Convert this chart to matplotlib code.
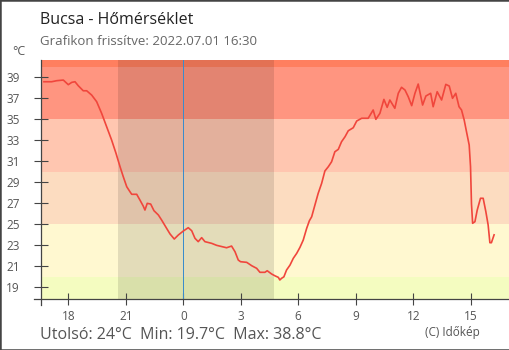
import matplotlib
matplotlib.use('Agg')
import matplotlib.pyplot as plt
from matplotlib.lines import Line2D

plt.rcParams['font.family'] = ['Open Sans', 'DejaVu Sans']

# hours relative to midnight (negative = previous evening)
hours = [-7.27, -6.87, -6.60, -6.26, -6.00, -5.82, -5.65, -5.48, -5.22, -5.04,
         -4.78, -4.52, -4.26, -4.00, -3.74, -3.51, -3.30, -3.13, -2.95, -2.78,
         -2.69, -2.43, -2.26, -2.09, -2.00, -1.88, -1.70, -1.53, -1.30, -1.13,
         -0.87, -0.69, -0.47, -0.26, 0.00, 0.26, 0.44, 0.61, 0.78, 0.96,
         1.13, 1.48, 1.74, 2.26, 2.52, 2.70, 2.87, 2.99, 3.31, 3.57,
         3.83, 4.00, 4.26, 4.38, 4.61, 4.78, 4.96, 5.04, 5.13, 5.25,
         5.39, 5.57, 5.74, 5.92, 6.09, 6.26, 6.44, 6.58, 6.70, 6.87,
         7.04, 7.22, 7.39, 7.57, 7.74, 7.91, 8.09, 8.26, 8.44, 8.61,
         8.87, 9.05, 9.31, 9.65, 9.91, 10.05, 10.26, 10.47, 10.64, 10.78,
         11.04, 11.22, 11.39, 11.57, 11.74, 11.92, 12.09, 12.26, 12.49, 12.66,
         12.91, 13.04, 13.25, 13.48, 13.70, 13.88, 14.05, 14.22, 14.39, 14.52,
         14.66, 14.78, 14.92, 14.99, 15.04, 15.10, 15.22, 15.34, 15.51, 15.65,
         15.79, 15.91, 16.00, 16.08, 16.22]
temps = [38.58, 38.58, 38.68, 38.74, 38.30, 38.52, 38.58, 38.20, 37.72, 37.72,
         37.31, 36.68, 35.57, 34.30, 33.03, 31.76, 30.49, 29.53, 28.58, 28.10,
         27.86, 27.86, 27.31, 26.74, 26.36, 27.00, 26.93, 26.30, 25.89, 25.41,
         24.62, 24.08, 23.60, 23.98, 24.36, 24.68, 24.39, 23.67, 23.35, 23.73,
         23.35, 23.19, 23.00, 22.77, 22.93, 22.39, 21.60, 21.44, 21.38, 21.06,
         20.81, 20.43, 20.43, 20.58, 20.27, 20.10, 19.95, 19.70, 19.86, 20.00,
         20.65, 21.12, 21.76, 22.24, 22.81, 23.50, 24.62, 25.34, 25.72, 26.84,
         27.95, 28.90, 30.08, 30.49, 30.96, 31.91, 32.14, 32.87, 33.34, 33.91,
         34.20, 34.84, 35.10, 35.10, 35.89, 35.00, 35.57, 36.90, 36.14, 36.84,
         36.05, 37.48, 38.05, 37.79, 37.15, 36.30, 37.48, 38.36, 36.36, 37.22,
         37.48, 36.20, 37.63, 36.84, 38.33, 38.17, 37.00, 37.48, 36.20, 35.89,
         34.93, 33.82, 32.55, 30.49, 26.93, 25.10, 25.25, 26.36, 27.48, 27.48,
         26.20, 24.93, 23.25, 23.25, 24.00]

x_ticks = [-6, -3, 0, 3, 6, 9, 12, 15]
x_labels = ['18', '21', '0', '3', '6', '9', '12', '15']
y_ticks = [19, 21, 23, 25, 27, 29, 31, 33, 35, 37, 39]

band_edges = [10, 20, 25, 30, 35, 40, 50]
band_colors = ['#f4fcc0', '#fff8d0', '#fcdcc0', '#ffc6b0', '#ff9580', '#ff7f5f']
sunset, sunrise = -3.41, 4.73

title = 'Bucsa - Hőmérséklet'
subtitle = 'Grafikon frissítve: 2022.07.01 16:30'
summary = 'Utolsó: 24°C  Min: 19.7°C  Max: 38.8°C'

W, H = 510, 350
fig = plt.figure(figsize=(W / 100, H / 100), dpi=100)
ax = fig.add_axes([40.7 / W, 50.7 / H, 1 - 40.7 / W, (299.3 - 60) / H])

for i, c in enumerate(band_colors):
    ax.axhspan(band_edges[i], band_edges[i + 1], color=c, lw=0, zorder=0)
ax.axvspan(sunset, sunrise, color='black', alpha=0.11, lw=0, zorder=1)
ax.axvline(0, color='#3a8ccc', lw=0.72, zorder=2, antialiased=False)
ax.plot(hours, temps, color='#f0463c', lw=1.2, zorder=3)

ax.set_xlim(-7.44, 17.05)
ax.set_ylim(17.86, 40.65)
ax.set_xticks(x_ticks)
ax.set_xticklabels(x_labels)
ax.set_yticks(y_ticks)
for s in ax.spines.values():
    s.set_visible(False)
ax.tick_params(axis='y', direction='inout', length=10, width=0.8, color='#444444',
               labelsize=8.5, labelcolor='#555555', pad=10)
ax.tick_params(axis='x', direction='inout', length=8, width=0.8, color='#444444',
               labelsize=8.5, labelcolor='#555555', pad=4)

# axis lines crossing at the corner
fig.add_artist(Line2D([40.7 / W, 40.7 / W], [(H - 305) / H, 1 - 60 / H],
                      transform=fig.transFigure, color='#444444', lw=0.9))
fig.add_artist(Line2D([34 / W, 1], [50.7 / H, 50.7 / H],
                      transform=fig.transFigure, color='#444444', lw=0.9))

fig.text(40 / W, 1 - 24 / H, title, fontsize=11.5, color='#222222', va='baseline')
fig.text(40 / W, 1 - 45 / H, subtitle, fontsize=9.5, color='#666666', va='baseline')
fig.text(12 / W, 1 - 55 / H, '°C', fontsize=9, color='#555555', va='baseline')
fig.text(40 / W, 1 - 339.3 / H, summary, fontsize=11.5, color='#555555', va='baseline')
fig.text(425 / W, 1 - 335.7 / H, '(C) Időkép', fontsize=8.5, color='#555555', va='baseline')

# outer frame
fig.add_artist(plt.Rectangle((0, 0), 1, 1, transform=fig.transFigure, fill=False,
                             edgecolor='#444444', lw=1.8))

fig.savefig('out.png', dpi=100)
